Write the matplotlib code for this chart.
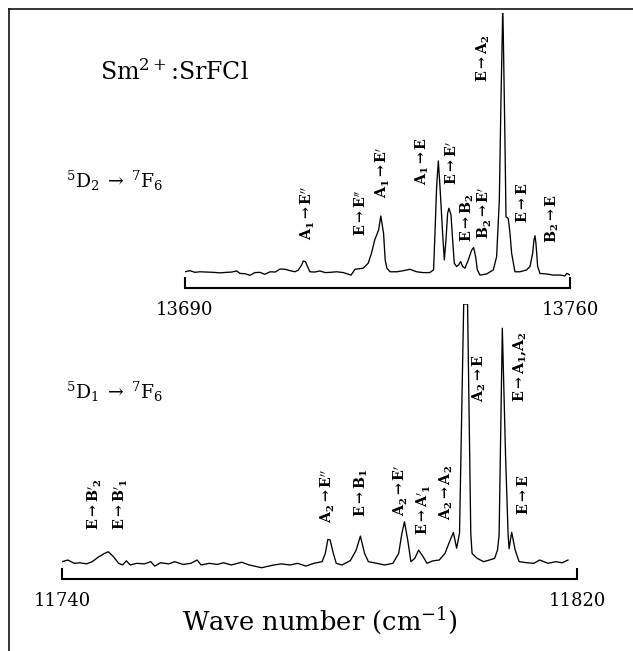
import matplotlib
matplotlib.use("Agg")
import matplotlib.pyplot as plt
from matplotlib.lines import Line2D

plt.rcParams["font.family"] = ["DejaVu Serif"]
plt.rcParams["mathtext.fontset"] = "dejavuserif"

# ---- 5D2 -> 7F6 emission (upper trace) ----
wn_d2 = [13690.0, 13690.9, 13691.8, 13692.7, 13693.9, 13695.1, 13696.4, 13697.6,
         13698.5, 13699.4, 13700.0, 13700.9, 13701.8, 13702.7, 13703.6, 13704.5,
         13705.5, 13706.4, 13707.3, 13708.2, 13709.1, 13710.0, 13710.6, 13711.2,
         13711.5, 13711.9, 13712.3, 13712.7, 13713.6, 13714.5, 13715.5, 13716.4,
         13717.6, 13718.8, 13720.2, 13720.9, 13722.4, 13723.3, 13723.9, 13724.5,
         13725.2, 13725.6, 13726.1, 13726.4, 13726.7, 13727.3, 13728.5, 13729.7,
         13730.9, 13732.1, 13733.3, 13734.5, 13735.2, 13735.45, 13735.75, 13736.06,
         13736.36, 13736.84, 13737.15, 13737.45, 13737.75, 13737.99, 13738.36, 13738.66,
         13738.96, 13739.39, 13739.75, 13740.12, 13740.48, 13740.9, 13741.51, 13742.12,
         13742.48, 13742.84, 13743.15, 13743.63, 13744.84, 13746.06, 13746.66, 13747.15,
         13747.45, 13747.69, 13747.75, 13747.87, 13748.06, 13748.24, 13748.36, 13748.78,
         13749.09, 13749.39, 13749.99, 13750.9, 13752.12, 13752.72, 13753.21, 13753.45,
         13753.63, 13753.81, 13754.12, 13754.54, 13755.75, 13756.96, 13758.18, 13759.09,
         13759.39, 13759.69, 13760.0]
int_d2 = [5.9, 6.3, 5.7, 5.9, 5.8, 5.7, 5.5, 5.7,
          5.8, 6.2, 5.3, 5.2, 4.6, 5.6, 5.7, 5.0,
          5.9, 5.8, 6.9, 6.8, 6.3, 5.9, 6.5, 8.4,
          9.8, 9.6, 7.7, 5.9, 5.8, 6.2, 5.6, 5.7,
          5.9, 5.6, 4.7, 6.8, 7.2, 9.0, 12.6, 17.5,
          21.1, 26.2, 19.9, 10.2, 7.2, 5.9, 5.9, 6.3,
          6.8, 5.9, 5.6, 5.6, 6.6, 19.9, 36.9, 46.2,
          36.9, 19.9, 10.2, 17.5, 27.2, 29.0, 26.6, 17.5,
          9.0, 7.8, 8.4, 9.6, 7.8, 7.2, 10.2, 13.8,
          14.7, 11.4, 6.6, 4.7, 5.1, 6.6, 11.4, 32.0,
          68.4, 92.6, 100.0, 92.6, 68.4, 44.1, 25.9, 25.3,
          19.9, 12.6, 5.9, 5.9, 6.6, 7.8, 12.6, 17.5,
          19.0, 16.2, 7.8, 5.3, 5.1, 4.7, 4.7, 4.4,
          5.3, 5.1, 4.7]

# ---- 5D1 -> 7F6 emission (lower trace) ----
wn_d1 = [11740.0, 11740.9, 11741.9, 11742.8, 11743.8, 11744.7, 11745.6, 11746.6,
         11747.2, 11748.0, 11748.8, 11749.4, 11750.0, 11750.6, 11751.6, 11752.8,
         11753.8, 11754.4, 11755.3, 11756.6, 11757.5, 11758.8, 11760.0, 11761.0,
         11761.6, 11762.9, 11764.1, 11765.1, 11766.3, 11767.9, 11769.1, 11771.0,
         11772.9, 11774.1, 11775.4, 11776.6, 11777.9, 11779.1, 11780.4, 11780.9,
         11781.3, 11781.65, 11782.15, 11782.6, 11783.5, 11784.8, 11785.7, 11786.35,
         11787.0, 11787.6, 11788.9, 11790.1, 11791.4, 11792.3, 11792.8, 11793.2,
         11793.7, 11794.2, 11794.8, 11795.4, 11796.1, 11796.7, 11797.6, 11798.6,
         11799.5, 11800.3, 11800.8, 11801.3, 11801.75, 11802.4, 11803.0, 11803.5,
         11803.7, 11804.5, 11805.5, 11806.4, 11807.2, 11807.65, 11807.9, 11808.4,
         11808.9, 11809.3, 11809.45, 11809.85, 11810.4, 11811.0, 11812.3, 11813.3,
         11814.2, 11815.5, 11816.7, 11817.7, 11818.6]
int_d1 = [6.3, 6.9, 5.7, 5.9, 5.5, 6.3, 7.9, 9.3,
          9.9, 8.1, 5.7, 5.1, 6.6, 5.1, 5.7, 5.5,
          6.3, 4.7, 5.9, 5.5, 6.3, 5.3, 5.7, 6.9,
          5.1, 5.7, 5.3, 5.9, 5.1, 6.1, 5.1, 4.1,
          5.1, 5.5, 5.1, 5.7, 4.7, 5.7, 6.3, 9.3,
          14.4, 14.2, 9.3, 5.7, 5.1, 6.7, 10.5, 15.6,
          9.3, 6.3, 5.7, 5.1, 5.7, 9.3, 16.6, 20.8,
          14.2, 6.3, 7.5, 10.5, 8.1, 5.7, 6.6, 6.9,
          9.3, 14.2, 16.9, 11.2, 16.6, 100.0, 100.0, 16.6,
          9.3, 7.5, 6.3, 6.9, 7.5, 10.5, 16.0, 91.2,
          45.0, 16.0, 11.0, 17.0, 10.5, 6.3, 5.9, 5.7,
          6.9, 5.7, 6.3, 5.9, 6.9]

# ---- line assignments ----
lbl_d2 = [r"A_1\rightarrow E''", r"E\rightarrow E''", r"A_1\rightarrow E'",
          r"A_1\rightarrow E", r"E\rightarrow E'", r"E\rightarrow B_2",
          r"B_2\rightarrow E'", r"E\rightarrow A_2", r"E\rightarrow E",
          r"B_2\rightarrow E"]
lbl_d2_wn = [13712.4, 13722.0, 13726.0, 13733.1, 13738.5,
             13741.3, 13744.5, 13744.2, 13751.3, 13756.7]
lbl_d2_y = [17.5, 18.9, 32.7, 37.5, 37.5, 16.7, 17.8, 74.9, 23.6, 16.4]

lbl_d1 = [r"E\rightarrow B'_2", r"E\rightarrow B'_1", r"A_2\rightarrow E''",
          r"E\rightarrow B_1", r"A_2\rightarrow E'", r"E\rightarrow A'_1",
          r"A_2\rightarrow A_2", r"A_2\rightarrow E", r"E\rightarrow A_1{,}A_2",
          r"E\rightarrow E"]
lbl_d1_wn = [11745.1, 11749.2, 11781.3, 11786.5, 11792.6,
             11796.2, 11799.7, 11804.9, 11811.1, 11811.7]
lbl_d1_y = [17.8, 17.8, 20.4, 22.5, 22.9, 16.0, 21.5, 64.4, 64.4, 23.3]

W, H = 633, 651
fig = plt.figure(figsize=(W / 100, H / 100), dpi=100)
fig.patch.set_facecolor("white")


def panel(rect, wn, inten, xlim, labels, lwn, ly):
    ax = fig.add_axes(rect)
    ax.patch.set_visible(False)
    ax.plot(wn, inten, color="black", lw=0.95)
    ax.set_xlim(*xlim)
    ax.set_ylim(0, 100)
    for s in ("left", "right", "top"):
        ax.spines[s].set_visible(False)
    ax.spines["bottom"].set_linewidth(1.5)
    ax.set_yticks([])
    ax.set_xticks(list(xlim))
    ax.set_xticklabels([str(v) for v in xlim])
    ax.tick_params(axis="x", direction="in", length=8, width=1.5,
                   pad=9, labelsize=13)
    for t, x, y in zip(labels, lwn, ly):
        ax.text(x, y, r"$\mathbf{" + t + "}$", rotation=90, ha="center",
                va="bottom", fontsize=10.3, clip_on=False)
    return ax


ax1 = panel([185 / W, 1 - 288 / H, 385 / W, 275 / H], wn_d2, int_d2,
            (13690, 13760), lbl_d2, lbl_d2_wn, lbl_d2_y)
ax2 = panel([62 / W, 1 - 579 / H, 515 / W, 275 / H], wn_d1, int_d1,
            (11740, 11820), lbl_d1, lbl_d1_wn, lbl_d1_y)

ax2.set_xlabel("Wave number (cm$^{-1}$)", fontsize=18.5, labelpad=-3)

fig.text(100 / W, 1 - 80 / H, "Sm$^{2+}$:SrFCl", fontsize=17,
         ha="left", va="baseline")
fig.text(66 / W, 1 - 188 / H, r"$^5$D$_2$$\;\rightarrow\;$$^7$F$_6$",
         fontsize=13.5, ha="left", va="baseline")
fig.text(66 / W, 1 - 399 / H, r"$^5$D$_1$$\;\rightarrow\;$$^7$F$_6$",
         fontsize=13.5, ha="left", va="baseline")

# outer frame (left and top edges)
fig.add_artist(Line2D([8.5 / W, 8.5 / W], [0, 1 - 9 / H],
                      transform=fig.transFigure, color="black", lw=1.1))
fig.add_artist(Line2D([8.5 / W, 1], [1 - 9 / H, 1 - 9 / H],
                      transform=fig.transFigure, color="black", lw=1.1))

fig.savefig("out.png", dpi=100)
